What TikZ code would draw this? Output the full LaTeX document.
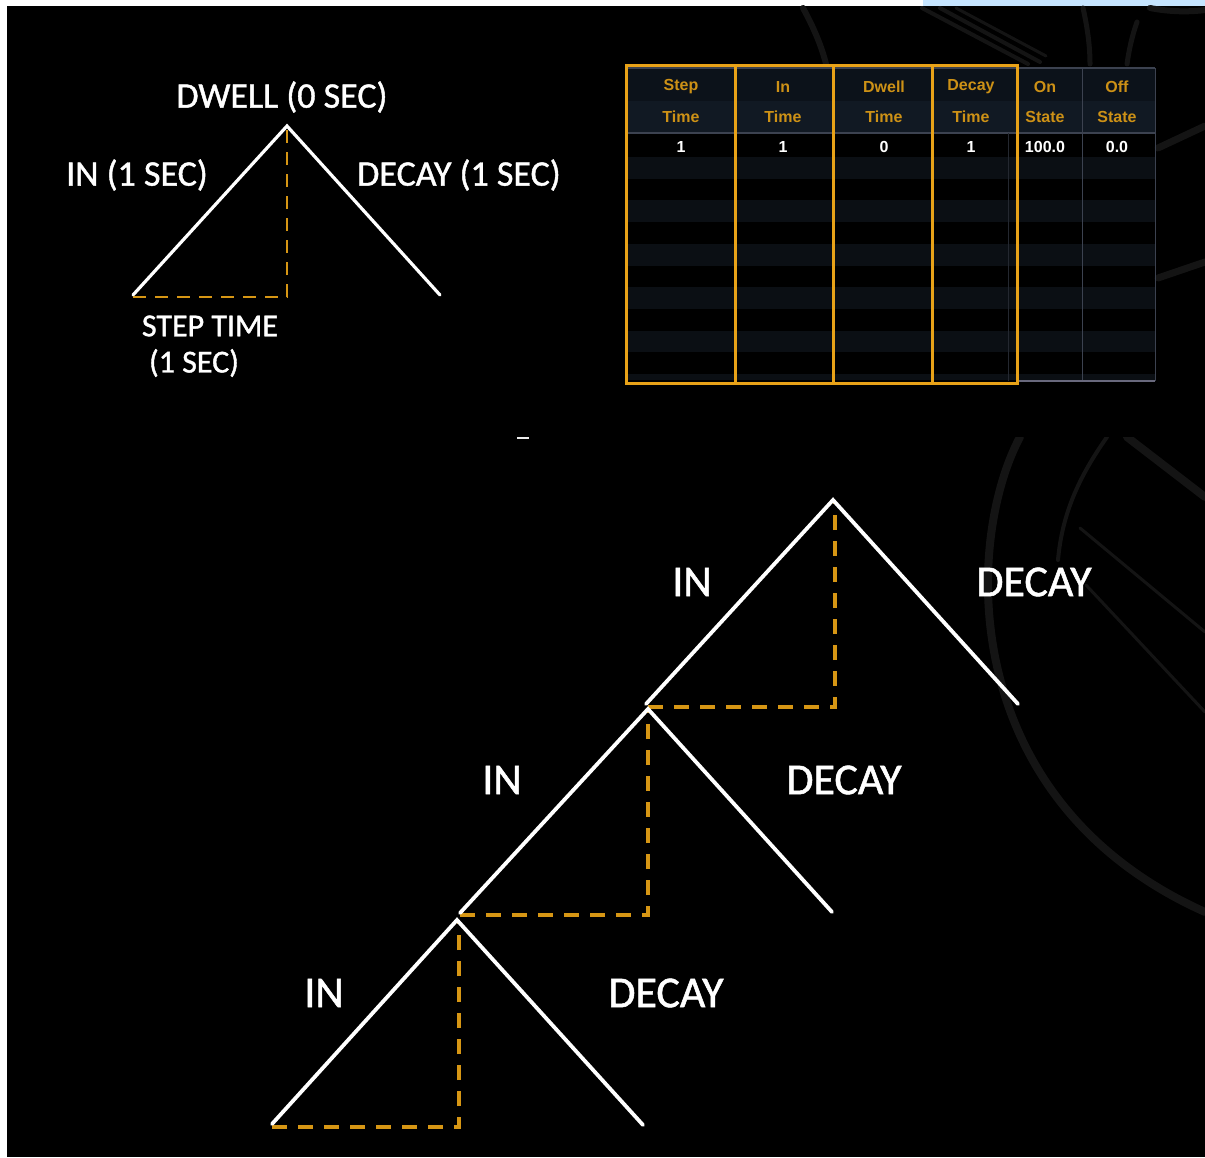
\documentclass[tikz,border=0pt]{standalone}
\usepackage{fontspec}
\setmainfont{Carlito}
\newfontfamily\lblfont[FakeBold=1.2]{Carlito}
\newfontfamily\tabfont{Liberation Sans}
\definecolor{taborange}{RGB}{232,162,24}
\definecolor{hdrtext}{RGB}{205,145,22}
\definecolor{dashorange}{RGB}{214,150,20}
\definecolor{hdrA}{RGB}{12,18,26}
\definecolor{hdrB}{RGB}{17,25,35}
\definecolor{stripe}{RGB}{11,15,20}
\definecolor{tabgrey}{RGB}{60,66,80}
\definecolor{tabgreyb}{RGB}{105,105,125}
\definecolor{decogrey}{RGB}{20,20,20}
\definecolor{topblue}{RGB}{198,229,255}
\tikzset{
  wline/.style={draw=white, line width=3.2pt, line cap=round, line join=miter},
  wlineb/.style={draw=white, line width=3.8pt, line cap=round, line join=miter},
  oline/.style={draw=dashorange, line width=2.8pt, dash pattern=on 13pt off 9pt},
  olineb/.style={draw=dashorange, line width=3.2pt, dash pattern=on 15pt off 11pt},
  toplabel/.style={text=white, font=\lblfont\fontsize{36}{40}\selectfont, inner sep=0pt},
  steplabel/.style={text=white, font=\lblfont\fontsize{32}{36}\selectfont, inner sep=0pt},
  biglabel/.style={text=white, font=\lblfont\fontsize{44}{48}\selectfont, inner sep=0pt},
  hdr/.style={text=hdrtext, font=\tabfont\bfseries\fontsize{16}{18}\selectfont, inner sep=0pt},
  val/.style={text=white, font=\tabfont\bfseries\fontsize{16}{18}\selectfont, inner sep=0pt},
  obox/.style={draw=taborange, line width=3pt},
  deco/.style={draw=decogrey, line cap=round},
}

\begin{document}

\begin{tikzpicture}[x=1pt,y=-1pt]
% page and background
\fill[white] (0,0) rectangle (1205,1157);
\fill[topblue] (923,0) rectangle (1205,6);
\fill[black] (7,6) rectangle (1205,1157);
\useasboundingbox (0,0) rectangle (1205,1157);

% faint background decoration, top right
\draw[deco, line width=6pt] (803,8) .. controls (815,30) and (822,48) .. (826,64);
\draw[deco, line width=4pt] (922,8) -- (1028,64);
\draw[deco, line width=4pt] (940,8) -- (1040,62);
\draw[deco, line width=3pt] (956,8) -- (1046,56);
\draw[deco, line width=5pt] (1083,8) .. controls (1088,30) and (1090,48) .. (1090,64);
\draw[deco, line width=5pt] (1137,22) .. controls (1132,36) and (1129,50) .. (1127,64);
\draw[deco, line width=6pt] (1150,8) .. controls (1170,12) and (1190,12) .. (1205,10);
\draw[deco, line width=7pt] (1158,148) -- (1205,126);
\draw[deco, line width=7pt] (1158,278) -- (1205,262);

% faint background decoration, bottom right
\begin{scope}
\clip (960,437) rectangle (1205,1157);
\draw[deco, line width=8pt] (1020,437) .. controls (965,540) and (955,800) .. (1205,912);
\draw[deco, line width=4pt] (1107,437) .. controls (1078,478) and (1062,515) .. (1058,560);
\draw[deco, line width=8pt] (1127,437) -- (1205,497);
\draw[deco, line width=3pt] (1080,528) -- (1205,632);
\draw[deco, line width=3pt] (1086,585) -- (1205,712);
\end{scope}

% small stray mark
\coordinate (m1) at (517,438);
\coordinate (m2) at (529,438);
\draw[white!85!gray, line width=2pt] (m1) -- (m2);

% ---------- top diagram ----------
\coordinate (t0) at (287,126);
\coordinate (t0l) at (133,295);
\coordinate (t0r) at (440,295);
\coordinate (t0c) at (287,297);
\coordinate (t0h) at (133,297);
\draw[oline] (t0h) -- (t0c) -- (t0);
\draw[wline] (t0l) -- (t0) -- (t0r);
\node[toplabel] (dwell) at (282,97) {DWELL (0 SEC)};
\node[toplabel] (in0) at (137,175) {IN (1 SEC)};
\node[toplabel] (decay0) at (459,175) {DECAY (1 SEC)};
\node[steplabel] (step0) at (210,326) {STEP TIME};
\node[steplabel] (step1) at (194,363) {(1 SEC)};

% ---------- table ----------
\fill[hdrA] (628,68) rectangle (1155,101);
\fill[hdrB] (628,101) rectangle (1155,133);
\foreach \i in {0,...,4}
  \fill[stripe] (628,{157+43.4*\i}) rectangle (1155,{178.7+43.4*\i});
\fill[stripe] (628,374) rectangle (1155,380);
\draw[tabgrey, line width=2.5pt] (628,68) -- (1155,68);
\draw[tabgrey, line width=1.5pt] (628,133) -- (1155,133);
\draw[tabgrey, line width=1pt] (1082,68) -- (1082,381);
\draw[tabgrey, line width=1pt] (1155,68) -- (1155,381);
\draw[tabgreyb, line width=2.5pt] (1017,381) -- (1155,381);
\draw[tabgrey!60!black, line width=1pt] (1008,133) -- (1008,381);
\draw[obox] (626,65) rectangle (735,383);
\draw[obox] (735,65) rectangle (833,383);
\draw[obox] (833,65) rectangle (932,383);
\draw[obox] (932,65) rectangle (1017,383);
\node[hdr] (h1a) at (681,87) {Step};
\node[hdr] (h1b) at (681,117) {Time};
\node[hdr] (h2a) at (783,87) {In};
\node[hdr] (h2b) at (783,117) {Time};
\node[hdr] (h3a) at (884,87) {Dwell};
\node[hdr] (h3b) at (884,117) {Time};
\node[hdr] (h4a) at (971,87) {Decay};
\node[hdr] (h4b) at (971,117) {Time};
\node[hdr] (h5a) at (1045,87) {On};
\node[hdr] (h5b) at (1045,117) {State};
\node[hdr] (h6a) at (1117,87) {Off};
\node[hdr] (h6b) at (1117,117) {State};
\node[val] (v1) at (681,147) {1};
\node[val] (v2) at (783,147) {1};
\node[val] (v3) at (884,147) {0};
\node[val] (v4) at (971,147) {1};
\node[val] (v5) at (1045,147) {100.0};
\node[val] (v6) at (1117,147) {0.0};

% ---------- bottom diagram ----------
% triangle A
\coordinate (a) at (833,500);
\coordinate (al) at (646,704);
\coordinate (ar) at (1018,704);
\coordinate (ac) at (835,707);
\coordinate (ah) at (648,707);
\coordinate (at) at (835,503);
\draw[olineb] (ah) -- (ac) -- (at);
\draw[wlineb] (al) -- (a) -- (ar);
% triangle B
\coordinate (b) at (648,709);
\coordinate (bl) at (460,913);
\coordinate (br) at (832,912);
\coordinate (bc) at (648,915);
\coordinate (bh) at (460,915);
\draw[olineb] (bh) -- (bc) -- (b);
\draw[wlineb] (bl) -- (b) -- (br);
% triangle C
\coordinate (c) at (457,920);
\coordinate (cl) at (272,1124);
\coordinate (cr) at (643,1125);
\coordinate (cc) at (459,1127);
\coordinate (ch) at (272,1127);
\coordinate (ct) at (459,923);
\draw[olineb] (ch) -- (cc) -- (ct);
\draw[wlineb] (cl) -- (c) -- (cr);

\node[biglabel] (inA) at (692,582) {IN};
\node[biglabel] (decA) at (1034,582) {DECAY};
\node[biglabel] (inB) at (502,780) {IN};
\node[biglabel] (decB) at (844,780) {DECAY};
\node[biglabel] (inC) at (324,993) {IN};
\node[biglabel] (decC) at (666,993) {DECAY};
\end{tikzpicture}

\end{document}
